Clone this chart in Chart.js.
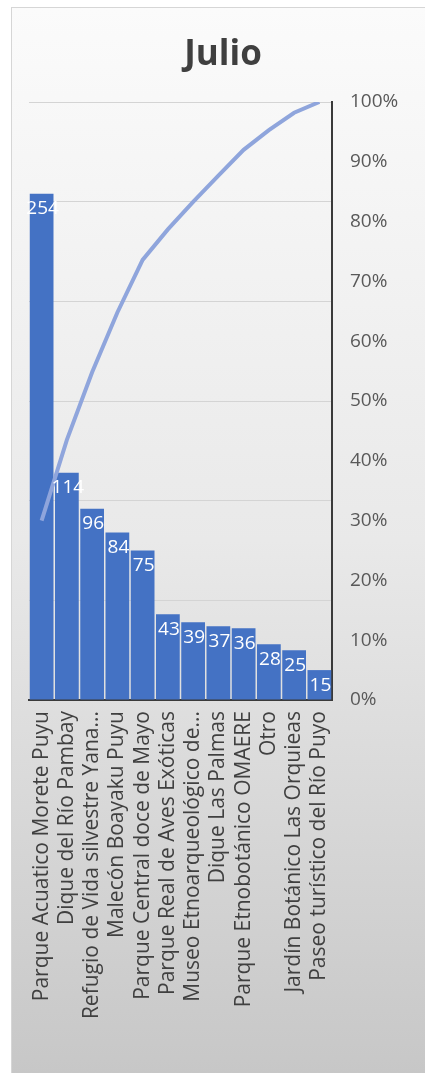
<!DOCTYPE html>
<html>
<head>
<meta charset="utf-8">
<script src="https://cdn.jsdelivr.net/npm/chart.js@4"></script>
<style>
  html, body { margin: 0; padding: 0; background: #ffffff; }
  #wrap {
    position: absolute; left: 11px; top: 7px; width: 414px; height: 1066px;
    box-sizing: border-box;
    border-top: 1px solid #d6d6d6; border-left: 1px solid #d6d6d6;
    background: linear-gradient(to bottom, #fbfbfb 0%, #e9e9e9 50%, #c7c7c7 100%);
  }
  #c { position: absolute; left: -1px; top: -1px; }
</style>
</head>
<body>
<div id="wrap"><canvas id="c" width="414" height="1066"></canvas></div>
<script>
const titleText = "Julio";
const categories = [
  "Parque Acuatico Morete Puyu",
  "Dique del Río Pambay",
  "Refugio de Vida silvestre Yana...",
  "Malecón Boayaku Puyu",
  "Parque Central doce de Mayo",
  "Parque Real de Aves Exóticas",
  "Museo Etnoarqueológico de...",
  "Dique Las Palmas",
  "Parque Etnobotánico OMAERE",
  "Otro",
  "Jardín Botánico Las Orquieas",
  "Paseo turístico del Río Puyo"
];
const visitors = [254, 114, 96, 84, 75, 43, 39, 37, 36, 28, 25, 15];
const cumulativePct = [30.0, 43.5, 54.8, 64.8, 73.6, 78.7, 83.3, 87.7, 92.0, 95.3, 98.2, 100];
const percentTicks = [0, 10, 20, 30, 40, 50, 60, 70, 80, 90, 100];

const FONT = "'Open Sans', 'DejaVu Sans', sans-serif";

const barLabels = {
  id: 'barLabels',
  afterDatasetsDraw(chart) {
    const ctx = chart.ctx;
    const meta = chart.getDatasetMeta(1);
    ctx.save();
    ctx.fillStyle = '#ffffff';
    ctx.font = '19px ' + FONT;
    ctx.textAlign = 'center';
    ctx.textBaseline = 'middle';
    meta.data.forEach((el, i) => {
      ctx.fillText(String(visitors[i]), el.x + 1, el.y + 15);
    });
    ctx.restore();
  }
};

new Chart(document.getElementById('c'), {
  data: {
    labels: categories,
    datasets: [
      {
        type: 'line',
        data: cumulativePct,
        yAxisID: 'y1',
        borderColor: '#8fa5dc',
        borderWidth: 4,
        pointRadius: 0,
        tension: 0,
        order: 0
      },
      {
        type: 'bar',
        data: visitors,
        yAxisID: 'y',
        backgroundColor: '#4472c4',
        borderWidth: 0,
        categoryPercentage: 1.0,
        barPercentage: 0.94,
        order: 1
      }
    ]
  },
  options: {
    responsive: false,
    animation: false,
    devicePixelRatio: 1,
    layout: { padding: { left: 18, right: 8, top: 0, bottom: 0 } },
    plugins: {
      legend: { display: false },
      tooltip: { enabled: false },
      title: {
        display: true,
        text: titleText,
        color: '#3f3f3f',
        font: { family: FONT, size: 35, weight: 'bold' },
        padding: { top: 27, bottom: 26 }
      }
    },
    scales: {
      x: {
        grid: { display: false, drawTicks: false },
        border: { display: true, color: '#3a3a3a', width: 2 },
        ticks: {
          autoSkip: false, maxRotation: 90, minRotation: 90,
          padding: 11, color: '#404040',
          font: { family: FONT, size: 21 }
        },
        afterFit(s) { s.height = 373; }
      },
      y: {
        position: 'left',
        min: 0, max: 300,
        ticks: { display: false, stepSize: 50 },
        grid: { color: '#d4d4d4', lineWidth: 1, drawTicks: false },
        border: { display: false },
        afterFit(s) { s.width = 0; }
      },
      y1: {
        position: 'right',
        min: 0, max: 100,
        afterBuildTicks(s) { s.ticks = percentTicks.map(v => ({ value: v })); },
        ticks: {
          callback: v => v + '%',
          padding: 18, color: '#595959',
          font: { family: FONT, size: 19 }
        },
        grid: { display: false, drawTicks: false },
        border: { display: true, color: '#3a3a3a', width: 2 },
        afterFit(s) { s.width = 85; }
      }
    }
  },
  plugins: [barLabels]
});
</script>
</body>
</html>
